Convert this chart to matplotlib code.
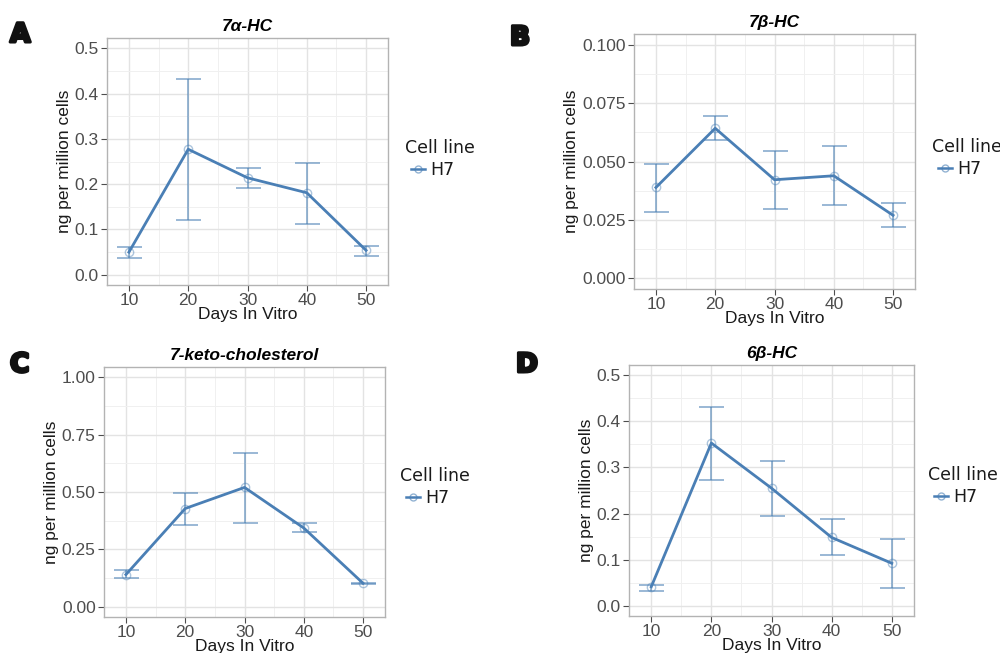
import matplotlib
matplotlib.use("Agg")
import matplotlib.pyplot as plt
import matplotlib.patheffects as pe
from matplotlib.lines import Line2D
import numpy as np

plt.rcParams['font.family'] = ['Liberation Sans', 'DejaVu Sans']

days = [10, 20, 30, 40, 50]

# 7α-HC
a_mean = [0.050, 0.277, 0.214, 0.181, 0.054]
a_low = [0.036, 0.122, 0.192, 0.113, 0.041]
a_high = [0.061, 0.433, 0.236, 0.247, 0.063]

# 7β-HC
b_mean = [0.0389, 0.0642, 0.0422, 0.0439, 0.0270]
b_low = [0.0286, 0.0591, 0.0299, 0.0312, 0.0218]
b_high = [0.0491, 0.0694, 0.0545, 0.0566, 0.0324]

# 7-keto-cholesterol
c_mean = [0.140, 0.428, 0.520, 0.343, 0.102]
c_low = [0.127, 0.358, 0.366, 0.324, 0.099]
c_high = [0.158, 0.496, 0.672, 0.366, 0.104]

# 6β-HC
d_mean = [0.041, 0.353, 0.255, 0.148, 0.092]
d_low = [0.032, 0.273, 0.194, 0.109, 0.039]
d_high = [0.044, 0.432, 0.314, 0.189, 0.144]

panels = [
    dict(letter="A", title="7α-HC", mean=a_mean, low=a_low, high=a_high,
         yticks=[0.0, 0.1, 0.2, 0.3, 0.4, 0.5], fmt="{:.1f}", box=(107, 38, 388, 285),
         letter_xy=(10, 42), legend_xy=(405, 148)),
    dict(letter="B", title="7β-HC", mean=b_mean, low=b_low, high=b_high,
         yticks=[0.0, 0.025, 0.05, 0.075, 0.1], fmt="{:.3f}", box=(634, 34, 915, 289),
         letter_xy=(510, 45), legend_xy=(932, 147)),
    dict(letter="C", title="7-keto-cholesterol", mean=c_mean, low=c_low, high=c_high,
         yticks=[0.0, 0.25, 0.5, 0.75, 1.0], fmt="{:.2f}", box=(104, 367, 385, 617),
         letter_xy=(10, 372), legend_xy=(400, 476)),
    dict(letter="D", title="6β-HC", mean=d_mean, low=d_low, high=d_high,
         yticks=[0.0, 0.1, 0.2, 0.3, 0.4, 0.5], fmt="{:.1f}", box=(629, 365, 914, 616),
         letter_xy=(516, 372), legend_xy=(928, 475)),
]

W, H = 1000, 653
fig = plt.figure(figsize=(W / 100, H / 100), dpi=100)

line_col = "#4a7fb5"
err_col = (0.29, 0.50, 0.71, 0.6)
grid_major = "#e3e3e3"
grid_minor = "#f0f0f0"

for p in panels:
    x0, y0, x1, y1 = p["box"]
    ax = fig.add_axes([x0 / W, 1 - y1 / H, (x1 - x0) / W, (y1 - y0) / H])
    mean = np.array(p["mean"])
    low = np.array(p["low"])
    high = np.array(p["high"])
    ax.errorbar(days, mean, yerr=[mean - low, high - mean], fmt="none",
                ecolor=err_col, elinewidth=1.3, capsize=9, capthick=1.3, zorder=3)
    ax.plot(days, mean, color=line_col, lw=2.0, zorder=4)
    ax.plot(days, mean, "o", ms=6, mfc="none", mec=(0.29, 0.50, 0.71, 0.45), mew=1.0, zorder=5)

    yt = p["yticks"]
    step = yt[1] - yt[0]
    ymax = yt[-1]
    pad = ymax * 0.045
    ax.set_ylim(-pad, ymax + pad)
    ax.set_xlim(6.3, 53.7)
    ax.set_yticks(yt)
    ax.set_yticklabels([p["fmt"].format(v) for v in yt])
    ax.set_xticks(days)
    ax.set_xticks([15, 25, 35, 45], minor=True)
    ax.set_yticks([v + step / 2 for v in yt[:-1]], minor=True)
    ax.grid(True, which="major", color=grid_major, lw=1.0)
    ax.grid(True, which="minor", color=grid_minor, lw=0.7)
    ax.set_axisbelow(True)
    for s in ax.spines.values():
        s.set_color("#b3b3b3")
        s.set_linewidth(1.0)
    ax.tick_params(axis="both", which="major", labelsize=12.5, labelcolor="#4d4d4d",
                   color="#4d4d4d", length=4, width=0.8, pad=2)
    ax.tick_params(axis="both", which="minor", length=0)
    ax.set_xlabel("Days In Vitro", fontsize=12.5, labelpad=-1, color="#1a1a1a")
    ax.set_ylabel("ng per million cells", fontsize=12.5, labelpad=2, color="#1a1a1a")
    ax.set_title(p["title"], fontsize=12.5, fontweight="bold", style="italic", pad=5)

    lx, ly = p["letter_xy"]
    fig.text(lx / W, 1 - ly / H, p["letter"], fontsize=19, fontweight="heavy",
             family=["DejaVu Sans"], ha="left", va="baseline", color="#111111",
             path_effects=[pe.withStroke(linewidth=2.2, foreground="#111111")])

    handle = Line2D([0], [0], color=line_col, lw=1.8, marker="o", ms=5,
                    mfc="none", mec=(0.29, 0.50, 0.71, 0.6))
    gx, gy = p["legend_xy"]
    fig.text(gx / W, 1 - gy / H, "Cell line", fontsize=12.5, color="#1a1a1a",
             ha="left", va="center", family=["DejaVu Sans"])
    leg = fig.legend([handle], ["H7"], loc="center left",
                     bbox_to_anchor=((gx - 6) / W, 1 - (gy + 22) / H),
                     frameon=False, fontsize=12.5, handlelength=0.8,
                     handletextpad=0.3, borderpad=0.2)
    for t in leg.get_texts():
        t.set_family(["DejaVu Sans"])
        t.set_color("#1a1a1a")

fig.savefig("out.png", dpi=100)
